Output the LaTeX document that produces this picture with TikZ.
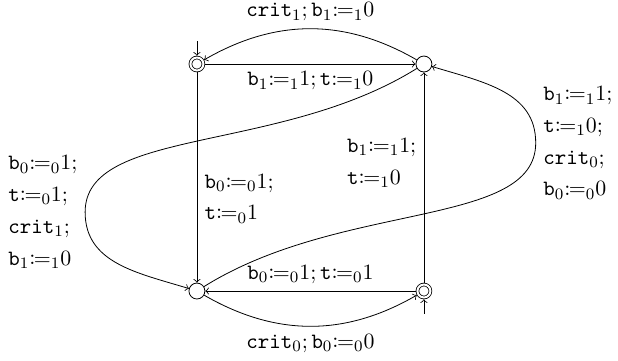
\documentclass[tikz,border=0pt,11pt]{standalone}
\usepackage{amsmath,mathtools}
\usepackage{tikz}
\usetikzlibrary{positioning}

\newcommand{\asg}[1]{{\coloneqq}_{#1}}
\newcommand{\vb}[1]{\mathtt{b}_{#1}}

\begin{document}
\begin{tikzpicture}[->, >=to, node distance=4cm, on grid,
    state/.style={circle, draw, minimum size=8pt, inner sep=0pt},
    accept/.style={state, minimum size=6.5pt, double, double distance=1pt, outer sep=0.9pt}]
    \useasboundingbox (-3.47,-5.216) rectangle (7.42,1.128);
    \node[accept] (A) {};
    \node[state, right=of A] (B) {};
    \node[state, below=of A] (C) {};
    \node[accept, below=of B] (D) {};
    \coordinate[above=0.4cm of A] (Ain);
    \coordinate[below=0.4cm of D] (Din);
    \coordinate[above left=1.39cm and 1.97cm of C] (wl);
    \coordinate[below right=1.39cm and 1.97cm of B] (wr);
    \draw (Ain) -- (A);
    \draw (Din) -- (D);
    \draw (A) -- node[below] {$\vb1\asg{1}1; \mathtt{t}\asg{1}0$} (B);
    \draw (B) to[bend right=30] node[above] {$\mathtt{crit}_1; \vb1\asg{1}0$} (A);
    \draw (A) -- node[right, pos=0.6, align=left] {$\vb0\asg{0}1;$\\[2.3pt] $\mathtt{t}\asg{0}1$} (C);
    \draw (D) -- node[above] {$\vb0\asg{0}1; \mathtt{t}\asg{0}1$} (C);
    \draw (C) to[bend right=30] node[below] {$\mathtt{crit}_0; \vb0\asg{0}0$} (D);
    \draw (D) -- node[left, pos=0.57, align=left] {$\vb1\asg{1}1;$\\[2.3pt] $\mathtt{t}\asg{1}0$} (B);
    \draw (B) .. controls +(212:3) and +(90:1.5) .. (wl)
        node[left, align=left] {$\vb0\asg{0}1;$\\[2.3pt] $\mathtt{t}\asg{0}1;$\\[2.3pt] $\mathtt{crit}_1;$\\[2.3pt] $\vb1\asg{1}0$}
        .. controls +(-90:0.9) and +(163:1.1) .. (C);
    \draw (C) .. controls +(32:3) and +(-90:1.5) .. (wr)
        node[right, align=left] {$\vb1\asg{1}1;$\\[2.3pt] $\mathtt{t}\asg{1}0;$\\[2.3pt] $\mathtt{crit}_0;$\\[2.3pt] $\vb0\asg{0}0$}
        .. controls +(90:0.9) and +(-17:1.1) .. (B);
\end{tikzpicture}
\end{document}
